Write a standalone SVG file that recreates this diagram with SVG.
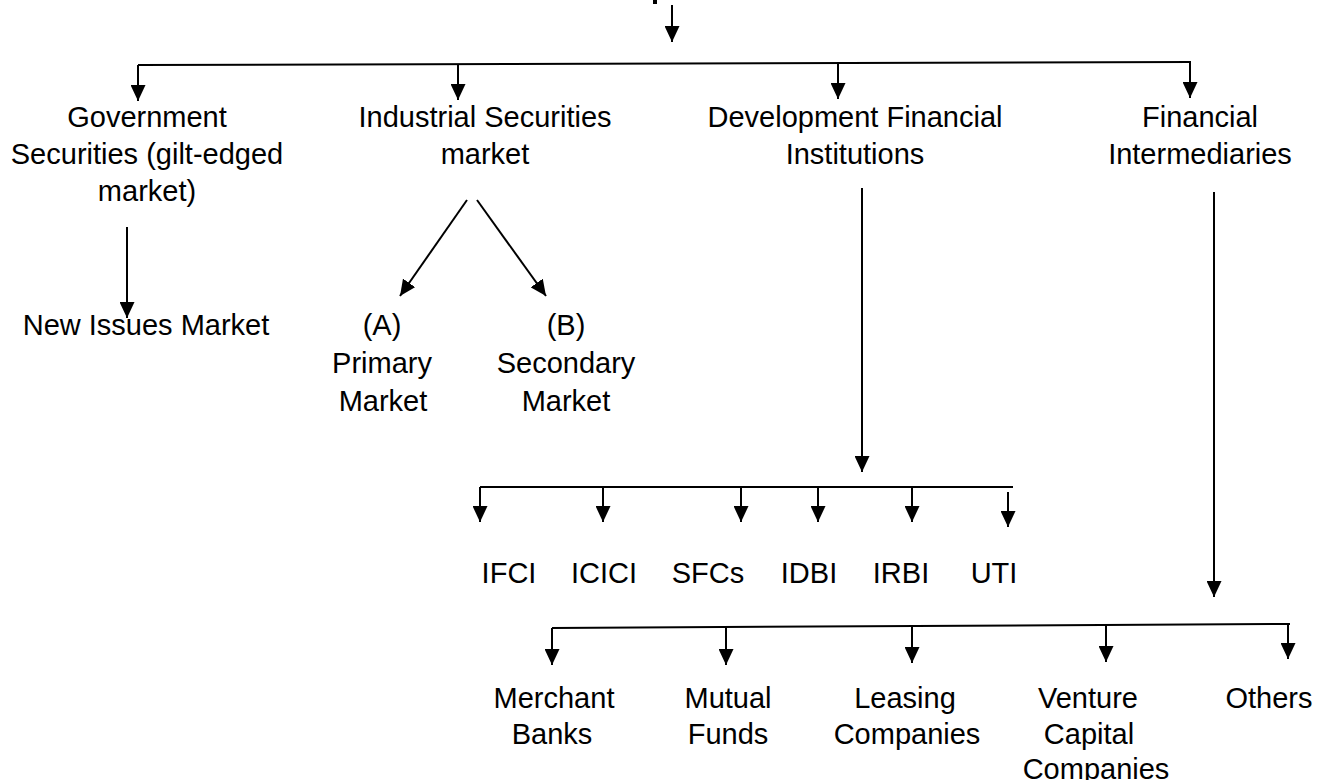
<svg xmlns="http://www.w3.org/2000/svg" width="1322" height="780" viewBox="0 0 1322 780">
<style>
  text { font-family: "Liberation Sans", Arial, sans-serif; font-size: 29px; fill: #000; text-anchor: middle; }
  .c line { stroke: #000; stroke-width: 2; fill: none; }
</style>
<defs>
  <marker id="ah" viewBox="0 0 16 15" refX="16" refY="7.5" markerWidth="16" markerHeight="15" markerUnits="userSpaceOnUse" orient="auto">
    <path d="M0,0 L16,7.5 L0,15 z" fill="#000"/>
  </marker>
</defs>
<rect width="1322" height="780" fill="#fff"/>
<rect x="653" y="0" width="4" height="4" fill="#000"/>
<g class="c" id="connectors">
  <line x1="672" y1="5" x2="672" y2="42" marker-end="url(#ah)"/>
  <line x1="138" y1="65" x2="1191" y2="62"/>
  <line x1="138" y1="65" x2="138" y2="101" marker-end="url(#ah)"/>
  <line x1="458" y1="64" x2="458" y2="100" marker-end="url(#ah)"/>
  <line x1="838" y1="63" x2="838" y2="99" marker-end="url(#ah)"/>
  <line x1="1190" y1="62" x2="1190" y2="98" marker-end="url(#ah)"/>
  <line x1="127" y1="227" x2="127" y2="318" marker-end="url(#ah)"/>
  <line x1="467" y1="200" x2="400" y2="296" marker-end="url(#ah)"/>
  <line x1="477" y1="200" x2="546" y2="296" marker-end="url(#ah)"/>
  <line x1="862" y1="188" x2="862" y2="472" marker-end="url(#ah)"/>
  <line x1="480" y1="487" x2="1013" y2="487"/>
  <line x1="480" y1="487" x2="480" y2="522" marker-end="url(#ah)"/>
  <line x1="603" y1="487" x2="603" y2="522" marker-end="url(#ah)"/>
  <line x1="741" y1="487" x2="741" y2="522" marker-end="url(#ah)"/>
  <line x1="818" y1="487" x2="818" y2="522" marker-end="url(#ah)"/>
  <line x1="912" y1="487" x2="912" y2="522" marker-end="url(#ah)"/>
  <line x1="1008" y1="492" x2="1008" y2="527" marker-end="url(#ah)"/>
  <line x1="1214" y1="192" x2="1214" y2="597" marker-end="url(#ah)"/>
  <line x1="552" y1="628" x2="1290" y2="624"/>
  <line x1="552" y1="628" x2="552" y2="665" marker-end="url(#ah)"/>
  <line x1="726" y1="627" x2="726" y2="665" marker-end="url(#ah)"/>
  <line x1="912" y1="626" x2="912" y2="663" marker-end="url(#ah)"/>
  <line x1="1106" y1="625" x2="1106" y2="662" marker-end="url(#ah)"/>
  <line x1="1288" y1="624" x2="1288" y2="659" marker-end="url(#ah)"/>
</g>
<g id="gov">
  <text x="147" y="127">Government</text>
  <text x="147" y="164">Securities (gilt-edged</text>
  <text x="147" y="201">market)</text>
</g>
<g id="ind">
  <text x="485" y="127">Industrial Securities</text>
  <text x="485" y="164">market</text>
</g>
<g id="dfi">
  <text x="855" y="127">Development Financial</text>
  <text x="855" y="164">Institutions</text>
</g>
<g id="fin">
  <text x="1200" y="127">Financial</text>
  <text x="1200" y="164">Intermediaries</text>
</g>
<g id="nim"><text x="146" y="335">New Issues Market</text></g>
<g id="pm">
  <text x="382" y="335">(A)</text>
  <text x="382" y="373">Primary</text>
  <text x="383" y="411">Market</text>
</g>
<g id="sm">
  <text x="566" y="335">(B)</text>
  <text x="566" y="373">Secondary</text>
  <text x="566" y="411">Market</text>
</g>
<g id="ifci"><text x="509" y="583">IFCI</text></g>
<g id="icici"><text x="604" y="583">ICICI</text></g>
<g id="sfcs"><text x="708" y="583">SFCs</text></g>
<g id="idbi"><text x="809" y="583">IDBI</text></g>
<g id="irbi"><text x="901" y="583">IRBI</text></g>
<g id="uti"><text x="994" y="583">UTI</text></g>
<g id="mb">
  <text x="554" y="708">Merchant</text>
  <text x="552" y="744">Banks</text>
</g>
<g id="mf">
  <text x="728" y="708">Mutual</text>
  <text x="728" y="744">Funds</text>
</g>
<g id="lc">
  <text x="905" y="708">Leasing</text>
  <text x="907" y="744">Companies</text>
</g>
<g id="vcc">
  <text x="1088" y="708">Venture</text>
  <text x="1089" y="744">Capital</text>
  <text x="1096" y="779">Companies</text>
</g>
<g id="oth"><text x="1269" y="708">Others</text></g>
</svg>
